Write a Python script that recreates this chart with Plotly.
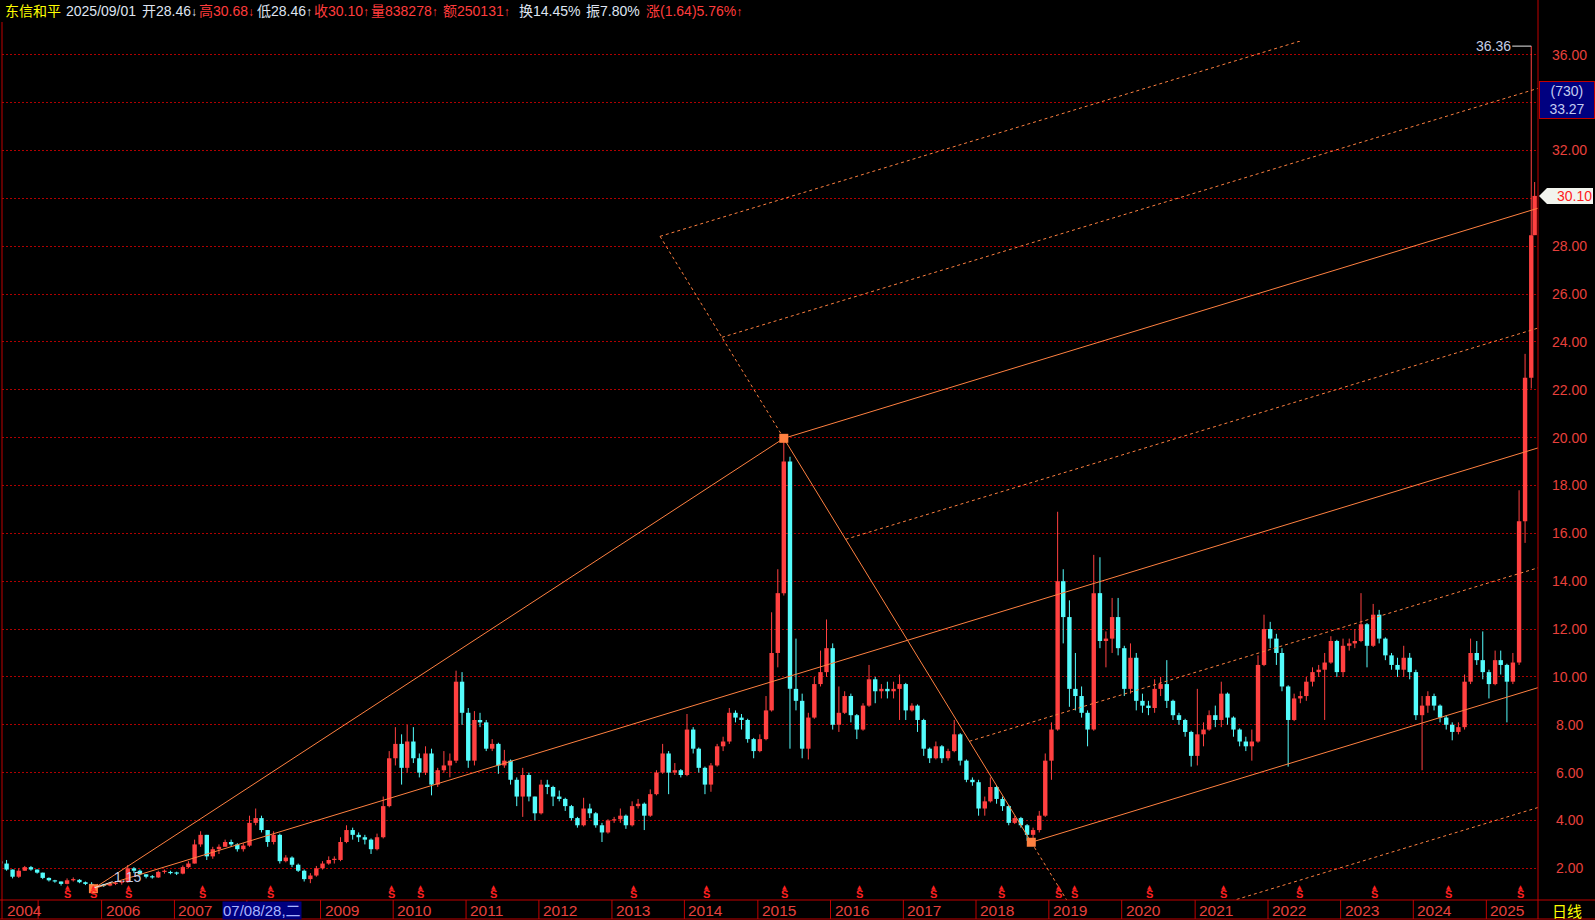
import pandas as pd
import plotly.graph_objects as go

# ------------------------------------------------------------------ data
stock_name = "东信和平"
quote_date = "2025/09/01"
quote_open, quote_high, quote_low, quote_close = 28.46, 30.68, 28.46, 30.10
quote_volume, quote_amount = 838278, 250131
quote_turnover, quote_amplitude = 14.45, 7.80
quote_change, quote_change_pct = 1.64, 5.76

first_month = "2004-08"
first_open = 2.30
last_trade_date = "2025-09-01"

# monthly candles (open = previous close)
monthly_close = [
    2.20, 1.95, 1.65, 1.90, 2.05,                                               # 2004 Aug-Dec
    1.95, 1.82, 1.60, 1.50, 1.45, 1.35, 1.50, 1.52, 1.42, 1.35, 1.25, 1.30,     # 2005
    1.28, 1.35, 1.40, 1.42, 2.00, 1.90, 1.75, 1.65, 1.62, 1.85, 1.85, 1.80,     # 2006
    1.78, 2.05, 2.20, 3.00, 3.40, 2.50, 2.80, 2.90, 3.10, 3.00, 2.80, 2.95,     # 2007
    3.90, 4.10, 3.60, 3.10, 3.40, 2.30, 2.45, 2.15, 1.90, 1.55, 1.70, 2.00,     # 2008
    2.20, 2.35, 2.35, 3.10, 3.60, 3.40, 3.30, 3.20, 2.80, 3.30, 4.60, 6.60,     # 2009
    7.20, 6.20, 7.30, 6.60, 6.00, 6.80, 5.50, 6.10, 6.30, 6.50, 9.80, 8.50,     # 2010
    6.50, 8.20, 8.10, 7.00, 7.20, 6.30, 6.50, 5.70, 5.00, 5.90, 5.00, 4.30,     # 2011
    5.50, 5.40, 5.00, 4.90, 4.60, 4.10, 3.80, 4.50, 4.30, 3.80, 3.50, 4.00,     # 2012
    4.05, 4.20, 3.80, 4.60, 4.70, 4.20, 5.10, 6.00, 6.80, 6.00, 6.10, 5.90,     # 2013
    7.80, 7.00, 6.20, 5.50, 6.30, 7.10, 7.30, 8.50, 8.30, 8.20, 7.40, 6.90,     # 2014
    7.40, 8.60, 11.00, 13.50, 19.00, 9.50, 9.00, 7.00, 8.30, 9.70, 10.20, 11.20,  # 2015
    8.00, 8.50, 9.20, 8.40, 7.80, 8.80, 9.90, 9.40, 9.50, 9.40, 9.50, 9.70,     # 2016
    8.60, 8.80, 8.20, 7.00, 6.60, 7.10, 6.60, 6.90, 7.60, 6.50, 5.70, 5.60,     # 2017
    4.50, 4.80, 5.40, 4.90, 4.60, 3.90, 4.10, 3.80, 3.40, 3.60, 4.20, 6.50,     # 2018
    7.80, 14.00, 12.50, 9.50, 9.20, 8.50, 7.80, 13.50, 11.50, 11.60, 12.50, 11.20,  # 2019
    9.50, 10.80, 9.00, 8.80, 8.70, 9.50, 9.70, 9.00, 8.40, 8.20, 7.70, 6.70,    # 2020
    7.60, 7.80, 8.40, 8.20, 9.30, 8.30, 7.80, 7.30, 7.10, 7.30, 10.50, 12.00,   # 2021
    11.60, 11.00, 9.60, 8.20, 9.10, 9.20, 9.80, 10.20, 10.30, 10.60, 11.50, 10.20,  # 2022
    11.30, 11.40, 11.50, 12.20, 11.30, 12.60, 11.60, 10.90, 10.50, 10.30, 10.80, 10.20,  # 2023
    8.40, 8.80, 9.20, 8.80, 8.30, 8.00, 7.70, 7.90, 9.80, 11.00, 10.70, 10.20,  # 2024
    9.70, 10.70, 10.50, 9.80, 10.60, 16.50, 22.50, 28.46, 30.10,                # 2025 Jan-Sep
]
monthly_high = [
    2.40, 2.35, 1.95, 2.00, 2.10,
    2.10, 1.95, 1.82, 1.62, 1.52, 1.45, 1.58, 1.62, 1.55, 1.45, 1.42, 1.35,
    1.35, 1.40, 1.45, 1.48, 2.14, 2.05, 1.95, 1.75, 1.72, 1.90, 1.95, 1.90,
    1.86, 2.12, 2.30, 3.20, 3.55, 3.40, 2.90, 3.00, 3.20, 3.20, 3.05, 3.05,
    4.20, 4.50, 4.20, 3.60, 3.55, 3.45, 2.55, 2.50, 2.20, 1.95, 1.80, 2.10,
    2.30, 2.50, 2.50, 3.30, 3.80, 3.70, 3.50, 3.40, 3.25, 3.45, 5.00, 6.90,
    7.90, 7.60, 8.00, 7.90, 6.80, 7.10, 7.00, 6.20, 6.90, 6.80, 10.26, 10.20,
    8.70, 8.57, 8.50, 8.20, 7.40, 7.25, 6.95, 6.55, 5.80, 6.20, 6.00, 5.00,
    5.70, 5.70, 5.45, 5.25, 4.95, 4.65, 4.15, 4.95, 4.70, 4.35, 3.90, 4.05,
    4.15, 4.50, 4.25, 4.80, 4.90, 4.75, 5.30, 6.10, 7.20, 6.90, 6.40, 6.15,
    8.45, 7.90, 7.05, 6.25, 6.40, 7.20, 7.50, 8.70, 8.60, 8.45, 8.25, 7.45,
    7.60, 9.20, 12.70, 14.50, 19.97, 19.20, 11.60, 9.30, 8.50, 10.00, 11.10, 12.40,
    11.40, 9.60, 9.40, 9.30, 8.45, 8.90, 10.50, 10.00, 9.70, 9.80, 9.80, 10.10,
    9.75, 8.90, 8.85, 8.25, 7.05, 7.30, 7.15, 7.00, 8.20, 7.65, 6.55, 5.80,
    5.70, 5.00, 5.80, 5.45, 5.00, 4.65, 4.20, 4.15, 3.85, 3.70, 4.40, 6.80,
    8.10, 16.90, 14.50, 13.20, 11.00, 9.60, 8.60, 15.10, 15.00, 11.90, 13.30, 13.30,
    11.30, 11.40, 11.00, 9.30, 9.00, 9.90, 10.00, 10.70, 9.05, 8.50, 8.25, 7.75,
    9.50, 8.10, 8.60, 8.80, 9.80, 9.35, 8.35, 7.85, 7.50, 7.80, 10.90, 12.60,
    12.30, 11.80, 11.20, 9.65, 9.30, 9.40, 10.00, 10.40, 10.50, 11.00, 11.70, 11.55,
    11.60, 11.60, 12.00, 13.50, 12.25, 13.05, 12.80, 11.65, 11.00, 10.80, 11.30, 11.00,
    10.30, 9.20, 9.40, 9.30, 8.85, 8.40, 8.10, 8.10, 10.10, 11.60, 11.50, 11.90,
    10.30, 11.10, 11.10, 10.55, 11.00, 17.80, 23.50, 36.36, 30.68,
]
monthly_low = [
    2.10, 1.90, 1.58, 1.60, 1.90,
    1.90, 1.78, 1.55, 1.45, 1.40, 1.28, 1.33, 1.45, 1.38, 1.30, 1.15, 1.20,
    1.22, 1.25, 1.30, 1.32, 1.40, 1.80, 1.70, 1.58, 1.57, 1.60, 1.78, 1.75,
    1.72, 1.75, 2.00, 2.20, 2.90, 2.35, 2.40, 2.60, 2.90, 2.90, 2.70, 2.70,
    2.90, 3.80, 3.50, 2.90, 3.00, 2.20, 2.25, 2.05, 1.85, 1.45, 1.38, 1.65,
    1.95, 2.15, 2.20, 2.30, 3.05, 3.20, 3.10, 3.00, 2.60, 2.75, 3.25, 4.55,
    6.30, 5.50, 6.00, 6.40, 5.80, 5.90, 5.05, 5.40, 6.00, 5.80, 6.40, 8.00,
    6.20, 6.30, 7.90, 6.90, 6.90, 5.95, 6.20, 5.50, 4.60, 4.15, 4.80, 4.00,
    4.25, 5.10, 4.60, 4.80, 4.40, 4.00, 3.70, 3.75, 4.10, 3.70, 3.10, 3.45,
    3.90, 3.90, 3.65, 3.75, 4.50, 3.60, 4.15, 5.05, 5.95, 5.10, 5.90, 5.80,
    5.85, 6.80, 6.00, 5.10, 5.20, 6.25, 6.90, 7.20, 8.10, 7.80, 7.25, 6.60,
    6.85, 7.35, 8.55, 10.40, 13.40, 7.00, 8.60, 6.60, 6.55, 8.25, 9.60, 10.00,
    7.80, 7.70, 8.45, 8.10, 7.40, 7.75, 8.75, 8.90, 9.10, 9.10, 9.10, 8.20,
    8.20, 8.55, 7.70, 6.70, 6.40, 6.55, 6.40, 6.50, 6.85, 6.30, 5.60, 5.45,
    4.20, 4.20, 4.75, 4.70, 4.40, 3.80, 3.85, 3.70, 3.15, 3.09, 3.50, 4.15,
    5.70, 7.75, 11.40, 8.75, 8.60, 8.30, 7.10, 7.75, 11.20, 10.40, 11.00, 10.90,
    9.20, 9.30, 8.60, 8.50, 8.40, 8.50, 9.20, 8.70, 8.20, 8.00, 7.50, 6.25,
    6.30, 7.10, 7.75, 7.90, 7.90, 8.00, 7.50, 7.10, 6.90, 6.50, 7.25, 10.45,
    11.20, 10.50, 9.40, 6.25, 8.15, 8.90, 9.00, 9.60, 10.00, 8.20, 10.55, 10.00,
    10.00, 11.10, 11.20, 11.45, 10.40, 11.25, 11.40, 10.70, 10.30, 10.00, 10.00, 9.90,
    8.20, 6.10, 8.50, 8.60, 8.10, 7.80, 7.35, 7.60, 7.80, 9.70, 10.50, 9.90,
    9.10, 9.65, 10.10, 8.10, 9.70, 10.50, 15.60, 22.05, 28.46,
]

# pitchfork pivots (low 2005, high 2015, low 2018) and its line levels
pivot_dates = ["2005-11-24", "2015-05-15", "2018-10-06"]
pivot_prices = [1.15, 19.97, 3.09]
fork_levels = [-0.5, -0.25, 0.0, 0.25, 0.5, 0.75, 1.0, 1.25]

# ex-rights markers ("S")
s_marker_dates = ["2005-07-19", "2005-11-22", "2006-05-20", "2007-05-26", "2008-05-01",
                  "2009-12-24", "2010-05-22", "2011-05-22", "2013-04-20", "2014-04-23",
                  "2015-05-18", "2016-05-29", "2017-06-04", "2018-05-11", "2019-02-17",
                  "2019-05-11", "2020-05-22", "2021-05-27", "2022-06-13", "2023-06-24",
                  "2024-06-28", "2025-06-20"]

# x-axis year cells (the 2008 cell is covered by the cursor-date box)
year_sep_dates = ["2005-02-20", "2006-01-04", "2007-01-04", "2008-01-02", "2009-01-05",
                  "2010-01-04", "2011-01-04", "2012-01-04", "2013-01-04", "2014-01-02",
                  "2015-01-05", "2016-01-04", "2017-01-03", "2018-01-02", "2019-01-02",
                  "2020-01-02", "2021-01-04", "2022-01-04", "2023-01-03", "2024-01-02",
                  "2025-01-02"]
year_sep_labels = ["", "2006", "2007", "", "2009", "2010", "2011", "2012", "2013", "2014",
                   "2015", "2016", "2017", "2018", "2019", "2020", "2021", "2022", "2023",
                   "2024", "2025"]
first_year_label = "2004"

y_tick_values = [2, 4, 6, 8, 10, 12, 14, 16, 18, 20, 22, 24, 26, 28, 32, 36]

cursor_date = "2007-08-28"
cursor_label = "07/08/28,二"
cursor_count = 730
cursor_price = 33.27
period_label = "日线"

# ------------------------------------------------------------------ style / layout constants
W, H = 1595, 920
PL, PR, PT, PB = 2, 1538, 41, 900           # plot box in pixels
PX_PER_UNIT = 23.93
Y_MIN = 0.677
Y_MAX = Y_MIN + (PB - PT) / PX_PER_UNIT
PX_PER_YEAR, PX_AT_2006 = 72.9, 101.0

BG = "#000000"
UP = "#ff4040"
DOWN = "#54fcfc"
ORANGE = "#ff8040"
GRID = "#b00000"
AXIS_RED = "#c00000"
LABEL_RED = "#e8403c"
PALE = "#c4cde6"
DASH = "3px,3px"
NUM_FONT = "Liberation Sans, Arial, Noto Sans CJK SC, sans-serif"
CJK_FONT = "Noto Sans CJK SC, Liberation Sans, sans-serif"


def xp(px):
    return (px - PL) / (PR - PL)


def yp(py):
    return (PB - py) / (PB - PT)


def px_to_date(px):
    return pd.Timestamp("2006-01-01") + pd.Timedelta(days=(px - PX_AT_2006) / PX_PER_YEAR * 365.25)


x_left, x_right = px_to_date(PL), px_to_date(PR)

# ------------------------------------------------------------------ derived series
n = len(monthly_close)
dates = list(pd.period_range(first_month, periods=n, freq="M").to_timestamp() + pd.Timedelta(days=14))
dates[-1] = pd.Timestamp(last_trade_date)
opens = [first_open] + monthly_close[:-1]

fig = go.Figure()

for is_up, color in ((True, UP), (False, DOWN)):
    idx = [i for i in range(n) if (monthly_close[i] >= opens[i]) == is_up]
    wx, wy = [], []
    for i in idx:
        wx += [dates[i], dates[i], None]
        wy += [monthly_low[i], monthly_high[i], None]
    fig.add_trace(go.Scatter(x=wx, y=wy, mode="lines", line=dict(color=color, width=1),
                             hoverinfo="skip", showlegend=False))
    fig.add_trace(go.Bar(
        x=[dates[i] for i in idx],
        y=[max(abs(monthly_close[i] - opens[i]), 0.05) for i in idx],
        base=[min(monthly_close[i], opens[i]) for i in idx],
        width=22 * 86400000,
        marker=dict(color=color, line=dict(width=0)),
        hoverinfo="skip", showlegend=False))

# ------------------------------------------------------------------ Andrews pitchfork
epoch = pd.Timestamp("1970-01-01")


def tnum(d):
    return (pd.Timestamp(d) - epoch) / pd.Timedelta(days=1)


def tdate(t):
    return epoch + pd.Timedelta(days=t)


ta, tb, tc = (tnum(d) for d in pivot_dates)
pa, pb, pc = pivot_prices
tm, pm = (tb + tc) / 2, (pb + pc) / 2
slope = (pm - pa) / (tm - ta)
t_far = tnum("2027-06-01")

segments = [([ta, tb], [pa, pb], "solid"), ([tb, tc], [pb, pc], "solid")]
lo, hi = min(fork_levels), max(fork_levels)
segments.append(([tb, tb + lo * (tc - tb)], [pb, pb + lo * (pc - pb)], DASH))
segments.append(([tc, tb + hi * (tc - tb)], [pc, pb + hi * (pc - pb)], DASH))
for s in fork_levels:
    if s == 0.5:
        t0, p0, style = ta, pa, "solid"
    else:
        t0, p0 = tb + s * (tc - tb), pb + s * (pc - pb)
        style = "solid" if s in (0.0, 1.0) else DASH
    segments.append(([t0, t_far], [p0, p0 + slope * (t_far - t0)], style))

for style in ("solid", DASH):
    lx, ly = [], []
    for ts, ps, st in segments:
        if st == style:
            lx += [tdate(ts[0]), tdate(ts[1]), None]
            ly += [ps[0], ps[1], None]
    fig.add_trace(go.Scatter(x=lx, y=ly, mode="lines",
                             line=dict(color=ORANGE, width=1, dash=style),
                             hoverinfo="skip", showlegend=False))

fig.add_trace(go.Scatter(x=pivot_dates, y=pivot_prices, mode="markers",
                         marker=dict(symbol="square", size=9, color=ORANGE, line=dict(width=0)),
                         hoverinfo="skip", showlegend=False, cliponaxis=False))

# ------------------------------------------------------------------ annotations
ann = []
shapes = []

# header line: each field placed at its own slot
YEL, WH, RD = "#ffff00", "#dfe4f0", "#ff3c3c"


def arrow(ch, c):
    return f'<span style="color:{c};font-size:12px">{ch}</span>'


header_fields = [
    (3, stock_name, YEL),
    (64, quote_date, WH),
    (140, f"开{quote_open:.2f}" + arrow("↓", WH), WH),
    (197, f"高{quote_high:.2f}" + arrow("↓", RD), RD),
    (255, f"低{quote_low:.2f}" + arrow("↑", WH), WH),
    (312, f"收{quote_close:.2f}" + arrow("↑", RD), RD),
    (369, f"量{quote_volume}" + arrow("↑", RD), RD),
    (441, f"额{quote_amount}" + arrow("↑", RD), RD),
    (517, f"换{quote_turnover:.2f}%", WH),
    (584, f"振{quote_amplitude:.2f}%", WH),
    (644, f"涨({quote_change:.2f}){quote_change_pct:.2f}%" + arrow("↑", RD), RD),
]
for xpix, txt, col in header_fields:
    ann.append(dict(xref="paper", yref="paper", x=xp(xpix), y=yp(11), xanchor="left", yanchor="middle",
                    text=txt, showarrow=False, font=dict(family=NUM_FONT, size=14, color=col)))

# right price labels
for v in y_tick_values:
    ann.append(dict(xref="paper", yref="y", x=xp(1569), y=v, xanchor="center", yanchor="middle",
                    text=f"{v:.2f}", showarrow=False,
                    font=dict(family=NUM_FONT, size=14, color=LABEL_RED)))

# highest / lowest labels
i_hi = max(range(n), key=lambda i: monthly_high[i])
i_lo = min(range(n), key=lambda i: monthly_low[i])
ann.append(dict(x=dates[i_hi], y=monthly_high[i_hi], text=f"{monthly_high[i_hi]:.2f}",
                showarrow=True, arrowhead=0, arrowwidth=1, arrowcolor="#e8e8e8",
                ax=-38, ay=0, standoff=0, font=dict(family=NUM_FONT, size=14, color=PALE)))
ann.append(dict(x=dates[i_lo], y=monthly_low[i_lo], text=f"{monthly_low[i_lo]:.2f}",
                showarrow=True, arrowhead=0, arrowwidth=1, arrowcolor="#e8e8e8",
                ax=36, ay=-12, standoff=0, font=dict(family=NUM_FONT, size=14, color=PALE)))

# S markers
for d in s_marker_dates:
    ann.append(dict(xref="x", yref="paper", x=d, y=yp(886.5), text="▲", showarrow=False,
                    font=dict(family="DejaVu Sans", size=6, color="#ff2020"),
                    xanchor="center", yanchor="middle"))
    ann.append(dict(xref="x", yref="paper", x=d, y=yp(894), text="<b>S</b>", showarrow=False,
                    font=dict(family=NUM_FONT, size=11, color="#ff2020"),
                    xanchor="center", yanchor="middle"))

# date band
band_top, band_bot = yp(900), yp(919)
shapes.append(dict(type="line", xref="paper", yref="paper", x0=xp(0), x1=xp(W), y0=band_top, y1=band_top,
                   line=dict(color=AXIS_RED, width=1)))
shapes.append(dict(type="line", xref="paper", yref="paper", x0=xp(0), x1=xp(W), y0=band_bot, y1=band_bot,
                   line=dict(color=AXIS_RED, width=1)))
for d in year_sep_dates:
    shapes.append(dict(type="line", xref="x", yref="paper", x0=d, x1=d, y0=band_top, y1=band_bot,
                       line=dict(color=AXIS_RED, width=1)))
ann.append(dict(xref="paper", yref="paper", x=0, y=yp(910), xanchor="left", yanchor="middle",
                xshift=3, text=first_year_label, showarrow=False,
                font=dict(family=NUM_FONT, size=15.5, color=LABEL_RED)))
for d, lab in zip(year_sep_dates, year_sep_labels):
    if lab:
        ann.append(dict(xref="x", yref="paper", x=d, y=yp(910), xanchor="left", yanchor="middle",
                        xshift=2, text=lab, showarrow=False,
                        font=dict(family=NUM_FONT, size=15.5, color=LABEL_RED)))
ann.append(dict(xref="x", yref="paper", x=cursor_date, y=yp(910), xanchor="left", yanchor="middle",
                text=cursor_label, showarrow=False, bgcolor="#000080", borderpad=0,
                font=dict(family=NUM_FONT, size=15, color="#a8b4ff")))
ann.append(dict(xref="paper", yref="paper", x=xp(1567), y=yp(910), xanchor="center", yanchor="middle",
                text=period_label, showarrow=False, font=dict(family=CJK_FONT, size=15, color=YEL)))

# frame lines
shapes.append(dict(type="line", xref="paper", yref="paper", x0=1, x1=1, y0=band_bot, y1=yp(0),
                   line=dict(color=AXIS_RED, width=1)))
shapes.append(dict(type="line", xref="paper", yref="paper", x0=0, x1=0, y0=band_bot, y1=yp(22),
                   line=dict(color=AXIS_RED, width=1)))

# cursor value box on the right
ann.append(dict(xref="paper", yref="paper", x=xp(1566.5), y=yp(100), xanchor="center", yanchor="middle",
                text=f"({cursor_count})<br>{cursor_price:.2f}", showarrow=False,
                bgcolor="#000080", bordercolor="#c00000", borderwidth=1, width=52, height=34,
                font=dict(family=NUM_FONT, size=14, color="#c4ccf0")))

# last close tag
y_close = PB - (monthly_close[-1] - Y_MIN) * PX_PER_UNIT
path = (f"M {xp(1539)},{yp(y_close)} L {xp(1547)},{yp(y_close - 8)} L {xp(1593)},{yp(y_close - 8)} "
        f"L {xp(1593)},{yp(y_close + 8)} L {xp(1547)},{yp(y_close + 8)} Z")
shapes.append(dict(type="path", xref="paper", yref="paper", path=path,
                   fillcolor="#f2f4ee", line=dict(width=0), layer="above"))
ann.append(dict(xref="paper", yref="y", x=xp(1574), y=monthly_close[-1], xanchor="center", yanchor="middle",
                text=f"{monthly_close[-1]:.2f}", showarrow=False,
                font=dict(family=NUM_FONT, size=14, color="#ff2020")))

fig.update_layout(
    width=W, height=H,
    margin=dict(l=PL, r=W - PR, t=PT, b=H - PB, pad=0),
    paper_bgcolor=BG, plot_bgcolor=BG,
    barmode="overlay", showlegend=False, hovermode=False,
    xaxis=dict(type="date", range=[x_left, x_right], showgrid=False, showticklabels=False,
               zeroline=False, showline=False, ticks=""),
    yaxis=dict(range=[Y_MIN, Y_MAX], showgrid=True, gridcolor=GRID, griddash="2px,2px", gridwidth=1,
               tick0=0, dtick=2, showticklabels=False, zeroline=False, showline=False, ticks=""),
    annotations=ann, shapes=shapes,
)

fig.write_html("out.html", config={"displayModeBar": False, "staticPlot": True},
               post_script="document.body.style.margin='0';document.body.style.background='black';")
